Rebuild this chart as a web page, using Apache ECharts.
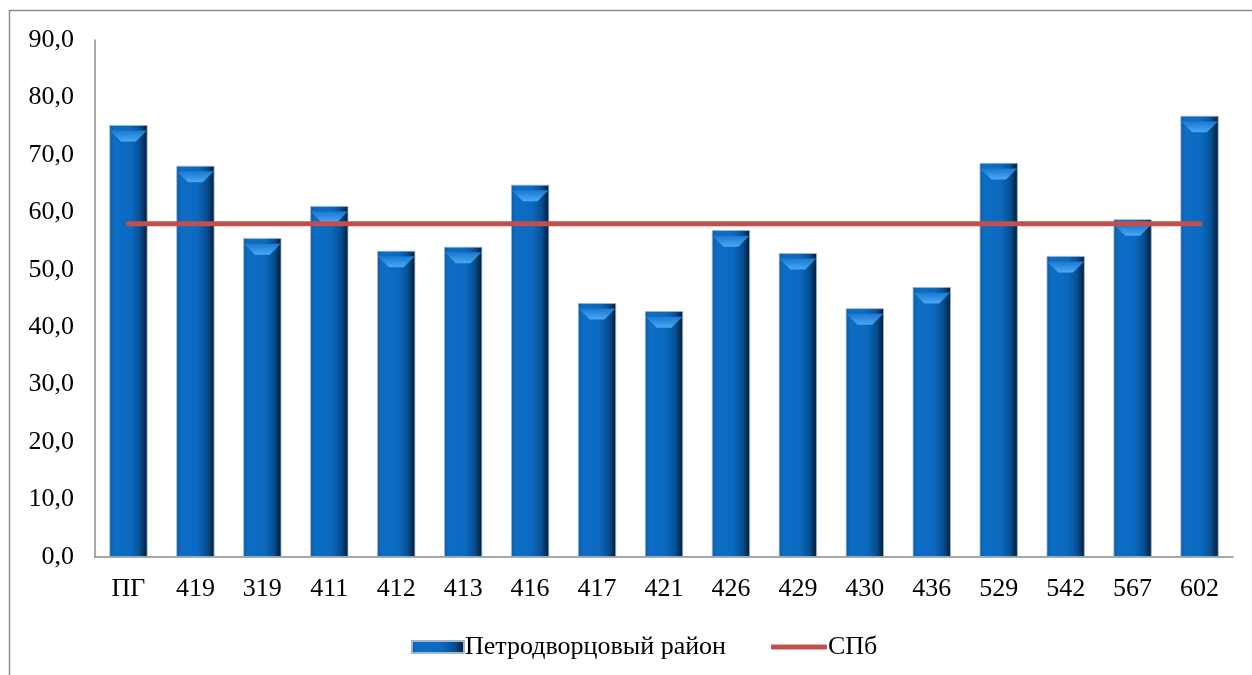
<!DOCTYPE html>
<html><head><meta charset="utf-8">
<script src="https://cdn.jsdelivr.net/npm/echarts@6/dist/echarts.min.js"></script>
<style>html,body{margin:0;padding:0;background:#fff}#c{width:1252px;height:675px}</style>
</head><body><div id="c"></div>
<script>
const categories = ['ПГ','419','319','411','412','413','416','417','421','426','429','430','436','529','542','567','602'];
const districtValues = [75.2,68.1,55.5,61.1,53.3,54.0,64.8,44.2,42.8,56.9,52.9,43.3,47.0,68.6,52.4,58.8,76.8];
const spbValue = 58.0;
const spbValues = categories.map(() => spbValue);
const seriesNames = ['Петродворцовый район','СПб'];

const chart = echarts.init(document.getElementById('c'));
const font = '"Liberation Serif","Times New Roman",serif';
const barGrad = new echarts.graphic.LinearGradient(0,0,1,0,[
  {offset:0,color:'#0c5aa0'},
  {offset:0.12,color:'#0d6cc4'},
  {offset:0.55,color:'#0b6ac0'},
  {offset:0.8,color:'#084f92'},
  {offset:1,color:'#021a33'}
]);
const bevelGrad = new echarts.graphic.LinearGradient(0,0,0,1,[
  {offset:0,color:'#1a78cf'},
  {offset:1,color:'#4aa8f3'}
]);
chart.setOption({
  animation:false,
  grid:{left:95,right:19,top:40,bottom:118},
  graphic:[{type:'rect',shape:{x:9.5,y:10.5,width:1260,height:700},style:{fill:'none',stroke:'#8c8c8c',lineWidth:1.5},silent:true}],
  legend:[{
    left:406,top:629,itemWidth:52,itemHeight:12,itemGap:0,
    textStyle:{fontFamily:font,fontSize:26,color:'#000',padding:[0,0,0,-4]},
    data:[{name:seriesNames[0],icon:'rect'}]
  },{
    left:766,top:629,itemWidth:56,itemHeight:5,itemGap:0,
    textStyle:{fontFamily:font,fontSize:26,color:'#000',padding:[0,0,0,-4]},
    data:[{name:seriesNames[1],icon:'roundRect',itemStyle:{color:'#c0504d'}}]
  }],
  xAxis:{
    type:'category',data:categories,
    axisLine:{lineStyle:{color:'#8c8c8c',width:1.5}},
    axisTick:{show:false},
    axisLabel:{fontFamily:font,fontSize:26,color:'#000',margin:19}
  },
  yAxis:{
    type:'value',min:0,max:90,interval:10,
    axisLine:{show:true,lineStyle:{color:'#8c8c8c',width:1.5}},
    axisTick:{show:false},
    splitLine:{show:false},
    axisLabel:{fontFamily:font,fontSize:26,color:'#000',margin:21,formatter:v=>v.toFixed(1).replace('.',',')}
  },
  series:[
    {name:seriesNames[0],type:'bar',data:districtValues,barWidth:'57%',
     itemStyle:{color:barGrad,borderColor:'#9fb6cc',borderWidth:0.8}},
    {name:'bevel',type:'pictorialBar',data:districtValues,barWidth:'55%',
     symbol:'path://M0,0 L10,0 L7,3 L3,3 Z',
     symbolSize:['100%',11],symbolPosition:'end',symbolOffset:[0,'50%'],z:3,silent:true,
     itemStyle:{color:bevelGrad}},
    {name:seriesNames[1],type:'line',data:spbValues,symbol:'none',z:5,
     lineStyle:{color:'#c0504d',width:5,cap:'round'},itemStyle:{color:'#c0504d'}}
  ]
});
</script></body></html>
